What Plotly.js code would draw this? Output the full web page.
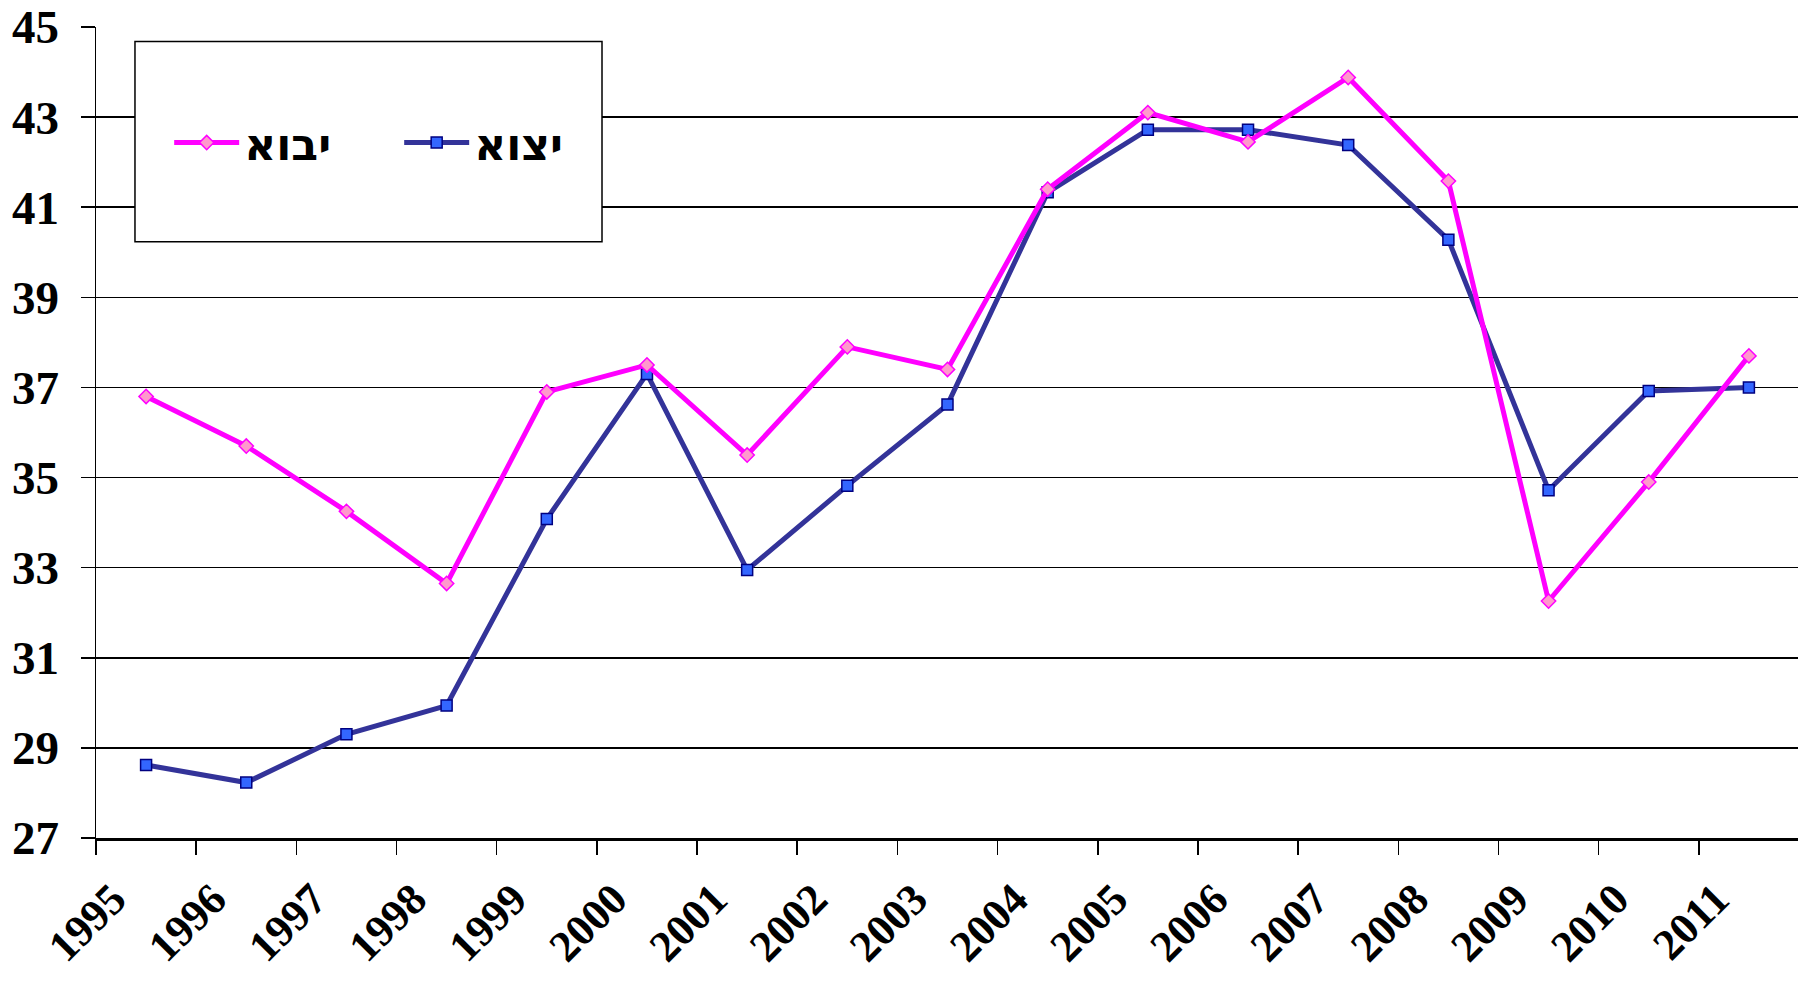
<!DOCTYPE html>
<html><head><meta charset="utf-8">
<script src="https://cdn.plot.ly/plotly-3.0.1.min.js"></script>
<style>html,body{margin:0;padding:0;background:#fff}#chart{width:1798px;height:982px}</style>
</head><body><div id="chart"></div>
<script>
const years = ['1995','1996','1997','1998','1999','2000','2001','2002','2003','2004','2005','2006','2007','2008','2009','2010','2011'];
const importValues = [36.8, 35.7, 34.25, 32.65, 36.9, 37.5, 35.5, 37.9, 37.4, 41.4, 43.1, 42.45, 43.88, 41.58, 32.26, 34.9, 37.7];
const exportValues = [28.62, 28.23, 29.3, 29.94, 34.08, 37.3, 32.95, 34.82, 36.62, 41.33, 42.72, 42.72, 42.38, 40.28, 34.72, 36.92, 37.0];
const importName = 'יבוא';
const exportName = 'יצוא';
const yTickValues = [27,29,31,33,35,37,39,41,43,45];

const fontFamily = '"Liberation Serif", "Times New Roman", serif';
const legendFamily = '"DejaVu Sans", "Liberation Sans", sans-serif';

const traces = [
  {
    x: years, y: exportValues, name: exportName, type: 'scatter', mode: 'lines+markers',
    line: {color: '#333399', width: 5},
    marker: {symbol: 'square', size: 11, color: '#3366ff', line: {color: '#000080', width: 1.5}}
  },
  {
    x: years, y: importValues, name: importName, type: 'scatter', mode: 'lines+markers',
    line: {color: '#ff00ff', width: 5},
    marker: {symbol: 'diamond', size: 11, color: '#ff99cc', line: {color: '#ff00ff', width: 1.5}}
  }
];

const layout = {
  width: 1798, height: 982,
  margin: {l: 96, r: 0, t: 27, b: 144},
  paper_bgcolor: '#ffffff', plot_bgcolor: '#ffffff',
  font: {family: fontFamily, size: 46, color: '#000', weight: 'bold'},
  showlegend: true,
  legend: {
    orientation: 'h', traceorder: 'reversed',
    x: 0.043, xanchor: 'left', y: 0.857, yanchor: 'middle',
    bgcolor: 'rgba(0,0,0,0)', borderwidth: 0,
    font: {family: legendFamily, size: 44, color: '#000', weight: 'bold'},
    entrywidth: 150, entrywidthmode: 'pixels', itemwidth: 65
  },
  xaxis: {
    type: 'category', range: [-0.5, 16.49],
    showline: true, linecolor: '#000', linewidth: 2.5,
    ticks: 'outside', ticklen: 14, tickwidth: 1.5, tickcolor: '#000',
    tickson: 'boundaries', tickangle: -45,
    ticklabelstandoff: 15, ticklabelshift: -33,
    showgrid: false, zeroline: false,
    tickfont: {family: fontFamily, size: 44, color: '#000', weight: 'bold'}
  },
  yaxis: {
    range: [27, 45], tickmode: 'array', tickvals: yTickValues,
    showline: true, linecolor: '#000', linewidth: 1.5,
    ticks: 'outside', ticklen: 14, tickwidth: 1.5, tickcolor: '#000',
    showgrid: true, gridcolor: '#000', gridwidth: 1.5, zeroline: false,
    ticklabelstandoff: 12,
    tickfont: {family: fontFamily, size: 47, color: '#000', weight: 'bold'}
  },
  shapes: [
    {type: 'rect', xref: 'paper', yref: 'paper', x0: 0.0229, x1: 0.2973, y0: 0.7353, y1: 0.982,
     fillcolor: '#ffffff', line: {color: '#000', width: 1.5}, layer: 'above'}
  ]
};

Plotly.newPlot('chart', traces, layout, {displayModeBar: false, staticPlot: true});
</script>
</body></html>
